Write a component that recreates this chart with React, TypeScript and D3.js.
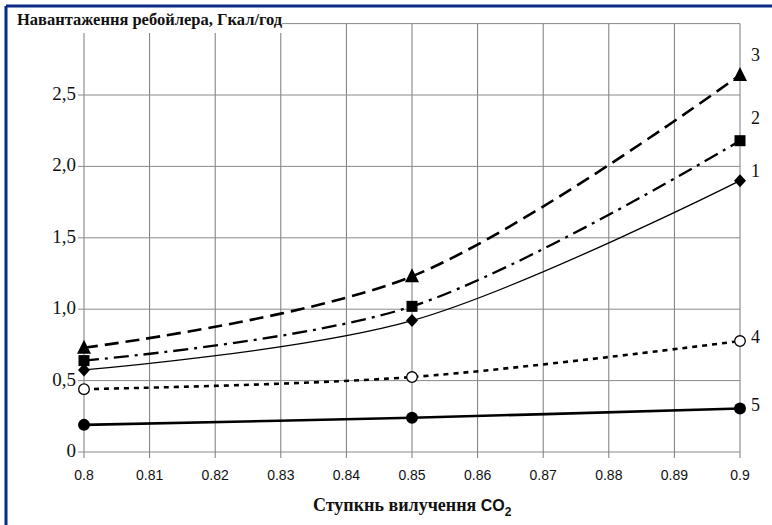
import React from "react";
import * as d3 from "d3";

const xValues = [0.8, 0.85, 0.9];
const series1 = [0.575, 0.92, 1.9];
const series2 = [0.64, 1.02, 2.18];
const series3 = [0.73, 1.23, 2.64];
const series4 = [0.44, 0.525, 0.777];
const series5 = [0.19, 0.24, 0.305];
const xTicks = [0.8, 0.81, 0.82, 0.83, 0.84, 0.85, 0.86, 0.87, 0.88, 0.89, 0.9];
const yTicks = [0, 0.5, 1.0, 1.5, 2.0, 2.5, 3.0];
const seriesNames = ["1", "2", "3", "4", "5"];

const W = 772, H = 525;
const SERIF = "Liberation Serif, Times New Roman, Tinos, DejaVu Serif, serif";
const SANS = "Liberation Sans, Arial, Arimo, sans-serif";
const x = d3.scaleLinear().domain([0.8, 0.9]).range([84, 740]);
const y = d3.scaleLinear().domain([0, 3]).range([452, 23.6]);

const line = d3
  .line<[number, number]>()
  .x((d) => x(d[0]))
  .y((d) => y(d[1]))
  .curve(d3.curveCatmullRom.alpha(0.5));

const fmtY = (v: number) => (v === 0 ? "0" : v.toFixed(1).replace(".", ","));

type S = { name: string; vals: number[]; dash: string; width: number; marker: string; labelDy: number };
const series: S[] = [
  { name: seriesNames[0], vals: series1, dash: "", width: 1.3, marker: "diamond", labelDy: -10 },
  { name: seriesNames[1], vals: series2, dash: "15 6 3 6", width: 2.3, marker: "square", labelDy: -23 },
  { name: seriesNames[2], vals: series3, dash: "14 7", width: 2.6, marker: "triangle", labelDy: -20 },
  { name: seriesNames[3], vals: series4, dash: "5 5", width: 2.6, marker: "open", labelDy: -4 },
  { name: seriesNames[4], vals: series5, dash: "", width: 2.6, marker: "dot", labelDy: -3 },
];

function Marker({ kind, cx, cy }: { kind: string; cx: number; cy: number }) {
  if (kind === "diamond")
    return <path d={`M${cx},${cy - 6.5}L${cx + 6},${cy}L${cx},${cy + 6.5}L${cx - 6},${cy}Z`} fill="#000" />;
  if (kind === "square") return <rect x={cx - 5.5} y={cy - 5.5} width={11} height={11} fill="#000" />;
  if (kind === "triangle")
    return <path d={`M${cx},${cy - 8}L${cx + 7},${cy + 6}L${cx - 7},${cy + 6}Z`} fill="#000" />;
  if (kind === "open")
    return <circle cx={cx} cy={cy} r={5.3} fill="#fff" stroke="#000" strokeWidth={1.3} />;
  return <circle cx={cx} cy={cy} r={6} fill="#000" />;
}

export default function App() {
  return (
    <svg width={W} height={H} style={{ display: "block", position: "absolute", left: 0, top: 0 }}>
      <rect x={0} y={0} width={W} height={H} fill="#fff" />
      {xTicks.map((t) => (
        <line key={"vx" + t} x1={x(t)} x2={x(t)} y1={y(3)} y2={458} stroke="#7a7a7a" strokeWidth={1} />
      ))}
      {yTicks.map((t) => (
        <line key={"hy" + t} x1={78} x2={740} y1={y(t)} y2={y(t)} stroke="#8a8a8a" strokeWidth={1} />
      ))}
      <rect x={8} y={8} width={274} height={25} fill="#fff" />
      <text x={17} y={25} fontFamily={SERIF} fontWeight="bold" fontSize={16.5} fill="#111">
        Навантаження ребойлера, Гкал/год
      </text>
      {yTicks.filter((t) => t < 3).map((t) => (
        <text key={"yl" + t} x={76} y={y(t) + 5} textAnchor="end" fontFamily={SERIF} fontSize={19} fill="#111">
          {fmtY(t)}
        </text>
      ))}
      {xTicks.map((t) => (
        <text key={"xl" + t} x={x(t)} y={480} textAnchor="middle" fontFamily={SANS} fontSize={14} fill="#111">
          {String(+t.toFixed(2))}
        </text>
      ))}
      {series.map((s) => (
        <path
          key={"l" + s.name}
          d={line(xValues.map((xv, i) => [xv, s.vals[i]] as [number, number])) || ""}
          fill="none"
          stroke="#000"
          strokeWidth={s.width}
          strokeDasharray={s.dash || undefined}
        />
      ))}
      {series.map((s) =>
        xValues.map((xv, i) => <Marker key={s.name + i} kind={s.marker} cx={x(xv)} cy={y(s.vals[i])} />)
      )}
      {series.map((s) => (
        <text key={"n" + s.name} x={751} y={y(s.vals[2]) + s.labelDy + 6} fontFamily={SERIF} fontSize={18} fill="#111">
          {s.name}
        </text>
      ))}
      <text x={313} y={511} fontFamily={SERIF} fontWeight="bold" fontSize={18} fill="#111">
        Ступкнь вилучення{" "}
        <tspan fontFamily={SANS} fontSize={16}>CO</tspan>
        <tspan fontFamily={SANS} fontSize={12} dy={5}>2</tspan>
      </text>
      <line x1={6} x2={W} y1={6} y2={6} stroke="#0b2a86" strokeWidth={3} />
      <line x1={6} x2={6} y1={6} y2={H} stroke="#0b2a86" strokeWidth={3} />
    </svg>
  );
}
